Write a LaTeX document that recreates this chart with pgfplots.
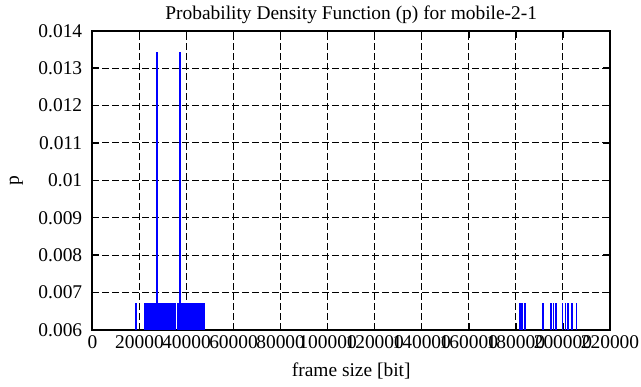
\documentclass[border=0pt]{standalone}
\usepackage{pgfplots}
\pgfplotsset{compat=1.18}
\usepackage{fontspec}
\setmainfont{Liberation Serif}
\newcommand{\tf}{\fontsize{19.5}{22}\selectfont}
\begin{document}
\begin{tikzpicture}
\begin{axis}[
  name=ax,
  scale only axis,
  width=517.6bp, height=299.3bp,
  xmin=0, xmax=220000, ymin=0.006, ymax=0.014,
  xtick={0,20000,40000,60000,80000,100000,120000,140000,160000,180000,200000,220000},
  xticklabels={0,20000,40000,60000,80000,100000,120000,140000,160000,180000,200000,220000},
  ytick={0.006,0.007,0.008,0.009,0.010,0.011,0.012,0.013,0.014},
  yticklabels={0.006,0.007,0.008,0.009,0.01,0.011,0.012,0.013,0.014},
  scaled ticks=false,
  tick align=inside,
  major tick length=7bp,
  every tick/.style={black, line width=1.4bp},
  axis line style={black, line width=2bp},
  grid=major,
  major grid style={black, line width=1bp, dash pattern=on 6.5bp off 3.5bp},
  xticklabel style={font=\tf, inner sep=0pt, anchor=north, yshift=-5bp},
  yticklabel style={font=\tf, inner sep=0pt, anchor=east, xshift=-10bp},
  title={Probability Density Function (p) for mobile-2-1},
  title style={font=\tf, at={(axis description cs:0.5,1)}, anchor=center, yshift=10bp},
  xlabel={frame size [bit]},
  xlabel style={font=\tf, at={(axis description cs:0.5,0)}, anchor=center, yshift=-41bp},
  ylabel={p},
  ylabel style={font=\tf, at={(axis description cs:0,0.5)}, anchor=center, yshift=76bp},
]
\addplot[ycomb, blue, line width=1.8bp, no marks] table[x=x, y=p] {
x p
18590 0.00671
22400 0.00671
22800 0.00671
23200 0.00671
23600 0.00671
24000 0.00671
24400 0.00671
24800 0.00671
25200 0.00671
25600 0.00671
26000 0.00671
26400 0.00671
26800 0.00671
27200 0.00671
27550 0.01342
28000 0.00671
28400 0.00671
28800 0.00671
29200 0.00671
29600 0.00671
30000 0.00671
30400 0.00671
30800 0.00671
31200 0.00671
31600 0.00671
32000 0.00671
32400 0.00671
32800 0.00671
33200 0.00671
33600 0.00671
34000 0.00671
34400 0.00671
34700 0.00671
35000 0.00671
36300 0.00671
36700 0.00671
37000 0.00671
37350 0.01342
37700 0.00671
38100 0.00671
38500 0.00671
38900 0.00671
39300 0.00671
39700 0.00671
40100 0.00671
40500 0.00671
40900 0.00671
41300 0.00671
41700 0.00671
42100 0.00671
42500 0.00671
42900 0.00671
43300 0.00671
43700 0.00671
44100 0.00671
44500 0.00671
44900 0.00671
45300 0.00671
45700 0.00671
46100 0.00671
46500 0.00671
46900 0.00671
47300 0.00671
47600 0.00671
181690 0.00671
182630 0.00671
183740 0.00671
191620 0.00671
194910 0.00671
195970 0.00671
196910 0.00671
199810 0.00671
201090 0.00671
202240 0.00671
203990 0.00671
205780 0.00671
};
\end{axis}
\pgfresetboundingbox
\path[use as bounding box] ([shift={(-92.4bp,-57bp)}]ax.south west) rectangle ([shift={(31bp,30.7bp)}]ax.north east);
\end{tikzpicture}
\end{document}
